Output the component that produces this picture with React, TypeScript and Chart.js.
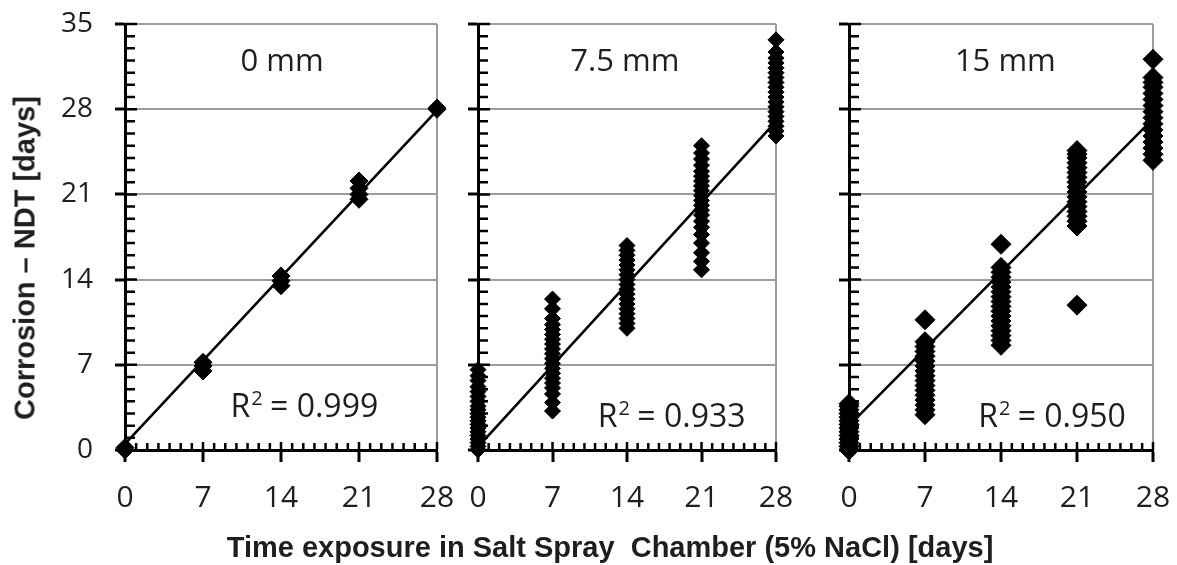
import React, { useEffect, useRef } from 'react';
import { Chart, registerables } from 'chart.js';

Chart.register(...registerables);

// ---------- data ----------
const DAYS = [0, 7, 14, 21, 28];

// 0 mm
const MM0_D0 = [0, 0.2];
const MM0_D7 = [6.5, 6.9, 7.2];
const MM0_D14 = [13.5, 13.9, 14.3];
const MM0_D21 = [20.6, 21.0, 21.5, 22.1];
const MM0_D28 = [28.0, 28.1];
const MM0_TREND = [0.5, 27.9];
const MM0_R2 = '0.999';

// 7.5 mm
const MM75_D0 = [0, 0.3, 0.6, 0.9, 1.2, 1.5, 1.8, 2.1, 2.4, 2.7, 3.0, 3.3, 3.6, 4.0, 4.4, 4.8, 5.2, 5.7, 6.1, 6.6];
const MM75_D7 = [3.2, 3.9, 4.6, 5.1, 5.5, 5.9, 6.3, 6.7, 7.1, 7.5, 7.9, 8.3, 8.7, 9.1, 9.5, 9.9, 10.3, 10.8, 11.6, 12.4];
const MM75_D14 = [10.0, 10.4, 10.8, 11.2, 11.6, 12.0, 12.4, 12.8, 13.2, 13.6, 14.0, 14.4, 14.8, 15.2, 15.6, 16.0, 16.4, 16.8];
const MM75_D21 = [14.8, 15.5, 16.2, 17.0, 17.7, 18.3, 18.8, 19.3, 19.7, 20.1, 20.5, 20.9, 21.3, 21.7, 22.1, 22.5, 22.9, 23.4, 23.9, 24.4, 25.0];
const MM75_D28 = [25.8, 26.2, 26.6, 27.0, 27.4, 27.8, 28.2, 28.6, 29.0, 29.4, 29.8, 30.2, 30.6, 31.0, 31.4, 31.8, 32.2, 32.7, 33.7];
const MM75_TREND = [0.25, 27.0];
const MM75_R2 = '0.933';

// 15 mm
const MM15_D0 = [0, 0.3, 0.6, 0.9, 1.2, 1.5, 1.8, 2.1, 2.4, 2.7, 3.0, 3.3, 3.6, 3.8];
const MM15_D7 = [2.9, 3.3, 3.7, 4.1, 4.5, 4.9, 5.3, 5.7, 6.1, 6.5, 6.9, 7.3, 7.7, 8.1, 8.5, 8.9, 10.7];
const MM15_D14 = [8.6, 9.0, 9.4, 9.8, 10.2, 10.6, 11.0, 11.4, 11.8, 12.2, 12.6, 13.0, 13.4, 13.8, 14.2, 14.6, 15.0, 16.9];
const MM15_D21 = [11.9, 18.4, 18.8, 19.2, 19.6, 20.0, 20.4, 20.8, 21.2, 21.6, 22.0, 22.4, 22.8, 23.2, 23.6, 24.0, 24.3, 24.6];
const MM15_D28 = [23.8, 24.3, 24.8, 25.3, 25.8, 26.3, 26.8, 27.3, 27.8, 28.3, 28.8, 29.3, 29.8, 30.2, 30.6, 32.1];
const MM15_TREND = [2.0, 27.2];
const MM15_R2 = '0.950';

const PANEL_TITLES = ['0 mm', '7.5 mm', '15 mm'];
const Y_TITLE = 'Corrosion – NDT [days]';
const X_TITLE = 'Time exposure in Salt Spray  Chamber (5% NaCl) [days]';

// ---------- layout / style ----------
const W = 1177;
const H = 565;
const GRID = '#9c9c9c';
const TEXT = '#1e1e1e';

const PANELS = [
  {
    title: PANEL_TITLES[0], groups: [MM0_D0, MM0_D7, MM0_D14, MM0_D21, MM0_D28], trend: MM0_TREND, r2: MM0_R2,
    radius: 9, padLeft: 0, yWidth: 125, right: 437, showY: true, titleAt: [14.1, 31.9], r2At: [16.1, 2.7],
  },
  {
    title: PANEL_TITLES[1], groups: [MM75_D0, MM75_D7, MM75_D14, MM75_D21, MM75_D28], trend: MM75_TREND, r2: MM75_R2,
    radius: 8, padLeft: 458, yWidth: 20, right: 776, showY: false, titleAt: [13.8, 31.9], r2At: [18.2, 1.9],
  },
  {
    title: PANEL_TITLES[2], groups: [MM15_D0, MM15_D7, MM15_D14, MM15_D21, MM15_D28], trend: MM15_TREND, r2: MM15_R2,
    radius: 10, padLeft: 829, yWidth: 20, right: 1153, showY: false, titleAt: [14.4, 31.9], r2At: [18.7, 1.9],
  },
];

function makeChart(canvas: HTMLCanvasElement, p: any) {
  const points = p.groups.flatMap((g: number[], i: number) => g.map((y) => ({ x: DAYS[i], y })));
  const trendData = [
    { x: DAYS[0], y: p.trend[0] },
    { x: DAYS[DAYS.length - 1], y: p.trend[1] },
  ];

  const decor = {
    id: 'decor' + p.title,
    beforeDatasetsDraw(chart: any) {
      const { ctx, chartArea } = chart;
      const xs = chart.scales.x;
      const ys = chart.scales.y;
      ctx.save();
      ctx.strokeStyle = '#000';
      ctx.lineWidth = 2.5;
      ctx.beginPath();
      for (let v = 0; v <= 35; v++) {
        const py = ys.getPixelForValue(v);
        const len = v % 7 === 0 ? 12 : 10;
        ctx.moveTo(chartArea.left, py);
        ctx.lineTo(chartArea.left + len, py);
      }
      for (let v = 0; v <= 28; v++) {
        const px = xs.getPixelForValue(v);
        const len = v % 7 === 0 ? 8 : 7;
        ctx.moveTo(px, chartArea.bottom);
        ctx.lineTo(px, chartArea.bottom - len);
      }
      ctx.stroke();
      ctx.restore();
    },
    afterDraw(chart: any) {
      const { ctx } = chart;
      const xs = chart.scales.x;
      const ys = chart.scales.y;
      ctx.save();
      ctx.fillStyle = TEXT;
      ctx.font = '31px "Open Sans"';
      ctx.textAlign = 'center';
      ctx.textBaseline = 'middle';
      ctx.fillText(p.title, xs.getPixelForValue(p.titleAt[0]), ys.getPixelForValue(p.titleAt[1]));

      const big = '32px "Open Sans"';
      const small = '20px "Open Sans"';
      ctx.font = big;
      const wR = ctx.measureText('R').width;
      const rest = ' = ' + p.r2;
      const wRest = ctx.measureText(rest).width;
      ctx.font = small;
      const wSup = ctx.measureText('2').width;
      const total = wR + wSup + wRest;
      const cx = xs.getPixelForValue(p.r2At[0]);
      const base = ys.getPixelForValue(p.r2At[1]);
      const x0 = cx - total / 2;
      ctx.textAlign = 'left';
      ctx.textBaseline = 'alphabetic';
      ctx.font = big;
      ctx.fillText('R', x0, base);
      ctx.font = small;
      ctx.fillText('2', x0 + wR + 1, base - 12);
      ctx.font = big;
      ctx.fillText(rest, x0 + wR + wSup, base);
      ctx.restore();
    },
  };

  return new Chart(canvas, {
    type: 'scatter',
    data: {
      datasets: [
        {
          data: points,
          pointStyle: 'rectRot',
          pointRadius: p.radius,
          pointHoverRadius: p.radius,
          backgroundColor: '#000',
          borderColor: '#000',
          borderWidth: 1,
          clip: false,
        } as any,
        {
          type: 'line',
          data: trendData,
          borderColor: '#000',
          borderWidth: 2.6,
          pointRadius: 0,
          showLine: true,
          fill: false,
          clip: false,
        } as any,
      ],
    },
    options: {
      responsive: false,
      animation: false,
      devicePixelRatio: 1,
      events: [],
      layout: {
        padding: { left: p.padLeft, right: W - p.right, top: 24, bottom: 0 },
      },
      plugins: {
        legend: { display: false },
        tooltip: { enabled: false },
        title: { display: false },
      },
      scales: {
        x: {
          type: 'linear',
          min: 0,
          max: 28,
          afterFit: (s: any) => {
            s.height = H - 450;
            s.paddingLeft = 0;
            s.paddingRight = 0;
            s.paddingTop = 0;
            s.paddingBottom = 0;
          },
          ticks: {
            stepSize: 7,
            color: TEXT,
            padding: 18,
            font: { family: '"Open Sans"', size: 30 },
            maxRotation: 0,
            autoSkip: false,
          },
          grid: {
            color: (c: any) => (c.tick && c.tick.value === 28 ? GRID : 'rgba(0,0,0,0)'),
            lineWidth: 2,
            tickColor: '#000',
            tickWidth: 3,
            tickLength: 12,
          },
          border: { color: '#000', width: 3 },
        },
        y: {
          type: 'linear',
          min: 0,
          max: 35,
          afterFit: (s: any) => {
            s.width = p.yWidth;
            s.paddingTop = 0;
            s.paddingBottom = 0;
            s.paddingLeft = 0;
            s.paddingRight = 0;
          },
          ticks: {
            stepSize: 7,
            display: p.showY,
            color: TEXT,
            padding: 22,
            font: { family: '"Open Sans"', size: 28 },
          },
          grid: {
            color: GRID,
            lineWidth: 2,
            tickColor: '#000',
            tickWidth: 3,
            tickLength: 10,
          },
          border: { color: '#000', width: 3 },
        },
      },
    } as any,
    plugins: [decor],
  });
}

function Panel({ p }: { p: any }) {
  const ref = useRef<HTMLCanvasElement | null>(null);
  useEffect(() => {
    if (!ref.current) return;
    const chart = makeChart(ref.current, p);
    return () => chart.destroy();
  }, [p]);
  return (
    <canvas
      ref={ref}
      width={W}
      height={H}
      style={{ position: 'absolute', left: 0, top: 0, width: W, height: H }}
    />
  );
}

export default function App() {
  return (
    <div style={{ position: 'absolute', left: 0, top: 0, width: W, height: H, background: '#fff', overflow: 'hidden' }}>
      {PANELS.map((p, i) => (
        <Panel key={i} p={p} />
      ))}
      <div
        style={{
          position: 'absolute',
          left: 25,
          top: 258,
          transform: 'translate(-50%, -50%) rotate(-90deg)',
          whiteSpace: 'nowrap',
          font: 'bold 29px "Liberation Sans", Arial, sans-serif',
          color: TEXT,
          lineHeight: 1,
        }}
      >
        {Y_TITLE}
      </div>
      <div
        style={{
          position: 'absolute',
          left: 610,
          top: 533,
          transform: 'translateX(-50%)',
          whiteSpace: 'pre',
          font: 'bold 29px "Liberation Sans", Arial, sans-serif',
          color: TEXT,
          lineHeight: 1,
        }}
      >
        {X_TITLE}
      </div>
    </div>
  );
}
